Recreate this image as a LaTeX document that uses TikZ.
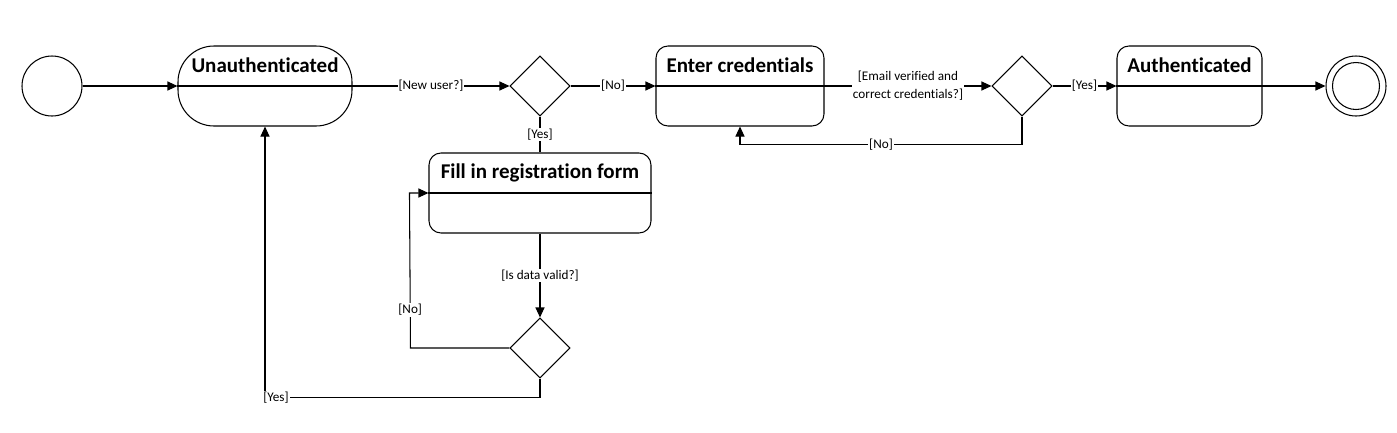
\documentclass[tikz,border=0pt]{standalone}
\usepackage{fontspec}
\setmainfont{Carlito}[Ligatures={NoCommon}]
\usetikzlibrary{arrows.meta,shapes.geometric,calc}
\tikzset{
  conn/.style={line width=1.05pt, draw=black},
  arr/.style={conn, -{Triangle[length=10pt,width=9pt]}},
  lbl/.style={fill=white, inner sep=1pt, font=\fontsize{13.2}{15}\selectfont},
  statebox/.style={draw, line width=1.05pt, rectangle, rounded corners=12pt, minimum height=80pt, inner sep=0pt},
  ttl/.style={font=\fontsize{21}{23}\selectfont\bfseries, inner sep=0pt},
  decision/.style={draw, line width=1.05pt, diamond, minimum width=60pt, minimum height=60pt, inner sep=0pt},
  startnode/.style={draw, line width=1.05pt, circle, minimum size=60pt, inner sep=0pt},
}
\begin{document}
\begin{tikzpicture}[x=1pt,y=-1pt]
\path[use as bounding box] (0,0) rectangle (1397,432);
% nodes
\node[startnode] (init) at (52,86) {};
\node[statebox, rounded corners=36pt, minimum width=174pt] (unauth) at (265,86) {};
\node[decision] (d1) at (540,86) {};
\node[statebox, minimum width=168pt] (enter) at (740,86) {};
\node[decision] (d2) at (1022,86) {};
\node[statebox, minimum width=145pt] (auth) at (1189.5,86) {};
\node[startnode] (final) at (1356,86) {};
\node[draw, line width=1.05pt, circle, minimum size=47pt, inner sep=0pt] (finalin) at (final) {};
\node[statebox, minimum width=222pt] (fill) at (540,193) {};
\node[decision] (d3) at (540,348) {};
% dividers and titles
\foreach \b/\t in {unauth/Unauthenticated, enter/Enter credentials, auth/Authenticated, fill/Fill in registration form}{
  \draw[conn] (\b.west) -- (\b.east);
  \node[ttl] (\b-t) at ($(\b.north)+(0,20)$) {\t};
}
% connectors
\draw[arr] (init) -- (unauth.west);
\draw[arr] (unauth.east) -- node[lbl]{[New user?]} (d1.west);
\draw[arr] (d1.east) -- node[lbl]{[No]} (enter.west);
\draw[arr] (enter.east) -- node[lbl, align=center, font=\fontsize{13.2}{18}\selectfont]{[Email verified and\\correct credentials?]} (d2.west);
\draw[arr] (d2.east) -- node[lbl]{[Yes]} (auth.west);
\draw[arr] (auth.east) -- (final.west);
\draw[arr] (d2.south) -- ($(d2.south)+(0,28)$) -- node[lbl]{[No]} ($(enter.south)+(0,18)$) -- (enter.south);
\draw[conn] (d1.south) -- node[lbl]{[Yes]} (fill.north);
\draw[arr] (fill.south) -- node[lbl]{[Is data valid?]} (d3.north);
\draw[arr] (d3.west) -- ($(d3.west)+(-99,0)$) -- node[lbl, pos=0.245]{[No]} ($(fill.west)+(-19,0)$) -- (fill.west);
\draw[arr] (d3.south) -- ($(d3.south)+(0,19)$) -- node[lbl, pos=0.96]{[Yes]} ($(unauth.south)+(0,271)$) -- (unauth.south);
\end{tikzpicture}
\end{document}
